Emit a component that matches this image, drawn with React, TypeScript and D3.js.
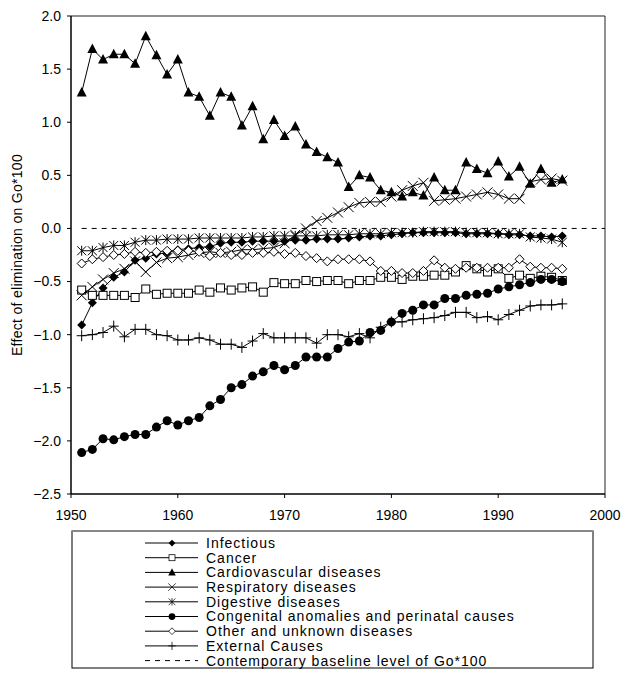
import * as d3 from "d3"

const years = d3.range(1951, 1997)

const infectious = [
  -0.91, -0.7, -0.56, -0.46, -0.41, -0.3, -0.28, -0.24, -0.23, -0.2,
  -0.19, -0.18, -0.17, -0.14, -0.13, -0.13, -0.12, -0.12, -0.12, -0.12,
  -0.11, -0.11, -0.1, -0.1, -0.1, -0.09, -0.08, -0.07, -0.07, -0.06,
  -0.05, -0.04, -0.04, -0.04, -0.04, -0.04, -0.05, -0.05, -0.05, -0.05,
  -0.06, -0.06, -0.07, -0.07, -0.08, -0.07,
]
const cancer = [
  -0.58, -0.63, -0.63, -0.63, -0.63, -0.65, -0.57, -0.62, -0.61, -0.61,
  -0.61, -0.58, -0.6, -0.56, -0.58, -0.56, -0.55, -0.6, -0.51, -0.52,
  -0.52, -0.49, -0.5, -0.49, -0.49, -0.52, -0.49, -0.49, -0.46, -0.46,
  -0.48, -0.45, -0.45, -0.44, -0.44, -0.41, -0.35, -0.38, -0.41, -0.38,
  -0.47, -0.44, -0.47, -0.45, -0.46, -0.49,
]
const cardiovascular = [
  1.28, 1.69, 1.59, 1.64, 1.64, 1.55, 1.81, 1.63, 1.45, 1.59,
  1.28, 1.24, 1.06, 1.28, 1.24, 0.97, 1.15, 0.84, 1.02, 0.87,
  0.96, 0.79, 0.72, 0.67, 0.62, 0.39, 0.5, 0.48, 0.36, 0.34,
  0.3, 0.34, 0.31, 0.48, 0.36, 0.36, 0.62, 0.56, 0.52, 0.63,
  0.49, 0.58, 0.42, 0.56, 0.43, 0.46,
]
const respiratory = [
  -0.63, -0.55, -0.48, -0.42, -0.38, -0.31, -0.41, -0.32, -0.28, -0.27,
  -0.25, -0.23, -0.22, -0.23, -0.22, -0.2, -0.2, -0.19, -0.18, -0.14,
  -0.06, 0.0, 0.07, 0.1, 0.15, 0.2, 0.24, 0.25, 0.25, 0.3,
  0.36, 0.4, 0.43, 0.26, 0.27, 0.28, 0.3, 0.32, 0.34, 0.32,
  0.28, 0.28, 0.44, 0.46, 0.47, 0.45,
]
const digestive = [
  -0.21, -0.21, -0.18, -0.16, -0.16, -0.13, -0.11, -0.11, -0.1, -0.1,
  -0.1, -0.09, -0.09, -0.09, -0.09, -0.09, -0.08, -0.08, -0.07, -0.07,
  -0.07, -0.07, -0.07, -0.06, -0.06, -0.06, -0.05, -0.05, -0.05, -0.04,
  -0.04, -0.04, -0.03, -0.03, -0.03, -0.03, -0.04, -0.04, -0.04, -0.05,
  -0.05, -0.05, -0.08, -0.09, -0.1, -0.13,
]
const congenital = [
  -2.11, -2.08, -1.98, -1.99, -1.96, -1.94, -1.94, -1.87, -1.81, -1.85,
  -1.81, -1.78, -1.67, -1.61, -1.5, -1.47, -1.39, -1.35, -1.29, -1.33,
  -1.29, -1.21, -1.21, -1.21, -1.13, -1.07, -1.06, -0.98, -0.96, -0.88,
  -0.8, -0.77, -0.72, -0.72, -0.66, -0.66, -0.63, -0.62, -0.61, -0.57,
  -0.55, -0.53, -0.51, -0.48, -0.48, -0.5,
]
const other = [
  -0.33, -0.29, -0.27, -0.25, -0.24, -0.22, -0.23, -0.22, -0.21, -0.21,
  -0.21, -0.22, -0.26, -0.23, -0.25, -0.25, -0.23, -0.23, -0.22, -0.24,
  -0.23, -0.26, -0.28, -0.31, -0.29, -0.29, -0.29, -0.31, -0.4, -0.4,
  -0.42, -0.42, -0.4, -0.3, -0.37, -0.38, -0.37, -0.37, -0.37, -0.37,
  -0.37, -0.29, -0.36, -0.37, -0.37, -0.38,
]
const external = [
  -1.01, -1.0, -0.98, -0.92, -1.02, -0.95, -0.95, -1.0, -1.01, -1.05,
  -1.05, -1.03, -1.05, -1.09, -1.09, -1.12, -1.06, -0.99, -1.03, -1.03,
  -1.03, -1.03, -1.08, -1.0, -1.0, -1.02, -0.99, -1.03, -0.93, -0.88,
  -0.88, -0.86, -0.85, -0.84, -0.82, -0.79, -0.79, -0.84, -0.83, -0.86,
  -0.81, -0.77, -0.73, -0.72, -0.72, -0.71,
]

const seriesNames = [
  "Infectious",
  "Cancer",
  "Cardiovascular diseases",
  "Respiratory diseases",
  "Digestive diseases",
  "Congenital anomalies and perinatal causes",
  "Other and unknown diseases",
  "External Causes",
]
const baselineLabel = "Contemporary baseline level of Go*100"
const yTicks = [2.0, 1.5, 1.0, 0.5, 0.0, -0.5, -1.0, -1.5, -2.0, -2.5]
const xTicks = [1950, 1960, 1970, 1980, 1990, 2000]

type MarkerKind = "diamond" | "square" | "triangle" | "x" | "star" | "circle" | "odiamond" | "plus"

const series: { name: string; values: number[]; marker: MarkerKind }[] = [
  { name: seriesNames[0], values: infectious, marker: "diamond" },
  { name: seriesNames[1], values: cancer, marker: "square" },
  { name: seriesNames[2], values: cardiovascular, marker: "triangle" },
  { name: seriesNames[3], values: respiratory, marker: "x" },
  { name: seriesNames[4], values: digestive, marker: "star" },
  { name: seriesNames[5], values: congenital, marker: "circle" },
  { name: seriesNames[6], values: other, marker: "odiamond" },
  { name: seriesNames[7], values: external, marker: "plus" },
]

const font = "Arial, 'Liberation Sans', sans-serif"

const Marker = ({ kind, x, y, small }: { kind: MarkerKind; x: number; y: number; small?: boolean }) => {
  const s = small ? 0.75 : 1
  const t = `translate(${x},${y}) scale(${s})`
  switch (kind) {
    case "diamond":
      return <path transform={t} d="M0,-4.5L4.5,0L0,4.5L-4.5,0Z" fill="#000" />
    case "square":
      return <rect transform={t} x={-4} y={-4} width={8} height={8} fill="#fff" stroke="#000" strokeWidth={1} />
    case "triangle":
      return <path transform={t} d="M0,-5.5L5,4L-5,4Z" fill="#000" />
    case "x":
      return <path transform={t} d="M-5,-5L5,5M-5,5L5,-5" stroke="#000" strokeWidth={1} fill="none" />
    case "star":
      return <path transform={t} d="M-4.5,-4.5L4.5,4.5M-4.5,4.5L4.5,-4.5M0,-5L0,5" stroke="#000" strokeWidth={1} fill="none" />
    case "circle":
      return <circle transform={t} r={4.5} fill="#000" />
    case "odiamond":
      return <path transform={t} d="M0,-4.5L4.5,0L0,4.5L-4.5,0Z" fill="#fff" stroke="#000" strokeWidth={1} />
    case "plus":
      return <path transform={t} d="M-5,0L5,0M0,-5.5L0,5.5" stroke="#000" strokeWidth={1} fill="none" />
  }
}

export default function App() {
  const W = 622
  const H = 680
  const plot = { left: 71, right: 605, top: 16, bottom: 494 }

  const x = d3.scaleLinear().domain([1950, 2000]).range([plot.left, plot.right])
  const y = d3.scaleLinear().domain([-2.5, 2.0]).range([plot.bottom, plot.top])

  const line = d3
    .line<number>()
    .x((_d, i) => x(years[i]))
    .y(d => y(d))

  const legend = { left: 72, top: 531, right: 593, bottom: 668 }
  const rowH = 14.7
  const rowY0 = legend.top + 12

  return (
    <svg width={W} height={H} style={{ position: "absolute", left: 0, top: 0, background: "#fff" }} fontFamily={font}>
      <rect x={0} y={0} width={W} height={H} fill="#fff" />

      {/* frame */}
      <line x1={plot.left} x2={plot.right} y1={plot.top} y2={plot.top} stroke="#222" strokeWidth={1} />
      <line x1={plot.right} x2={plot.right} y1={plot.top} y2={plot.bottom} stroke="#222" strokeWidth={1} />

      {/* baseline */}
      <line x1={x(1951)} x2={plot.right} y1={y(0)} y2={y(0)} stroke="#000" strokeWidth={1} strokeDasharray="5,5" />

      {/* series */}
      {series.map(s => (
        <g key={s.name}>
          <path d={line(s.values) || ""} fill="none" stroke="#000" strokeWidth={1} />
          {s.values.map((v, i) => (
            <Marker key={i} kind={s.marker} x={x(years[i])} y={y(v)} />
          ))}
        </g>
      ))}

      {/* axes */}
      <line x1={plot.left} x2={plot.left} y1={plot.top} y2={plot.bottom} stroke="#000" strokeWidth={1.5} />
      <line x1={plot.left} x2={plot.right} y1={plot.bottom} y2={plot.bottom} stroke="#000" strokeWidth={1.5} />
      {yTicks.map(t => (
        <g key={t}>
          <line x1={plot.left - 4} x2={plot.left} y1={y(t)} y2={y(t)} stroke="#000" />
          <text x={plot.left - 10} y={y(t)} dy="0.35em" textAnchor="end" fontSize={14} fill="#000">
            {d3.format(".1f")(t)}
          </text>
        </g>
      ))}
      {xTicks.map(t => (
        <g key={t}>
          <line x1={x(t)} x2={x(t)} y1={plot.bottom} y2={plot.bottom + 4} stroke="#000" />
          <text x={x(t)} y={plot.bottom + 26} textAnchor="middle" fontSize={14} fill="#000">
            {t}
          </text>
        </g>
      ))}
      <text
        transform={`translate(22,${(plot.top + plot.bottom) / 2}) rotate(-90)`}
        textAnchor="middle"
        fontSize={14}
        letterSpacing={0.3}
        fill="#000"
      >
        Effect of elimination on Go*100
      </text>

      {/* legend */}
      <rect
        x={legend.left}
        y={legend.top}
        width={legend.right - legend.left}
        height={legend.bottom - legend.top}
        fill="#fff"
        stroke="#000"
        strokeWidth={1}
      />
      <line x1={legend.left} x2={legend.right} y1={legend.top} y2={legend.top} stroke="#888" strokeWidth={2} />
      {series.map((s, i) => {
        const yy = rowY0 + i * rowH
        return (
          <g key={s.name}>
            <line x1={145} x2={198} y1={yy} y2={yy} stroke="#000" />
            <Marker kind={s.marker} x={172} y={yy} small />
            <text x={206} y={yy} dy="0.35em" fontSize={14} letterSpacing={1} fill="#000">
              {s.name}
            </text>
          </g>
        )
      })}
      <line
        x1={145}
        x2={198}
        y1={rowY0 + 8 * rowH}
        y2={rowY0 + 8 * rowH}
        stroke="#000"
        strokeDasharray="5,5"
      />
      <text x={206} y={rowY0 + 8 * rowH} dy="0.35em" fontSize={14} letterSpacing={1} fill="#000">
        {baselineLabel}
      </text>
    </svg>
  )
}
